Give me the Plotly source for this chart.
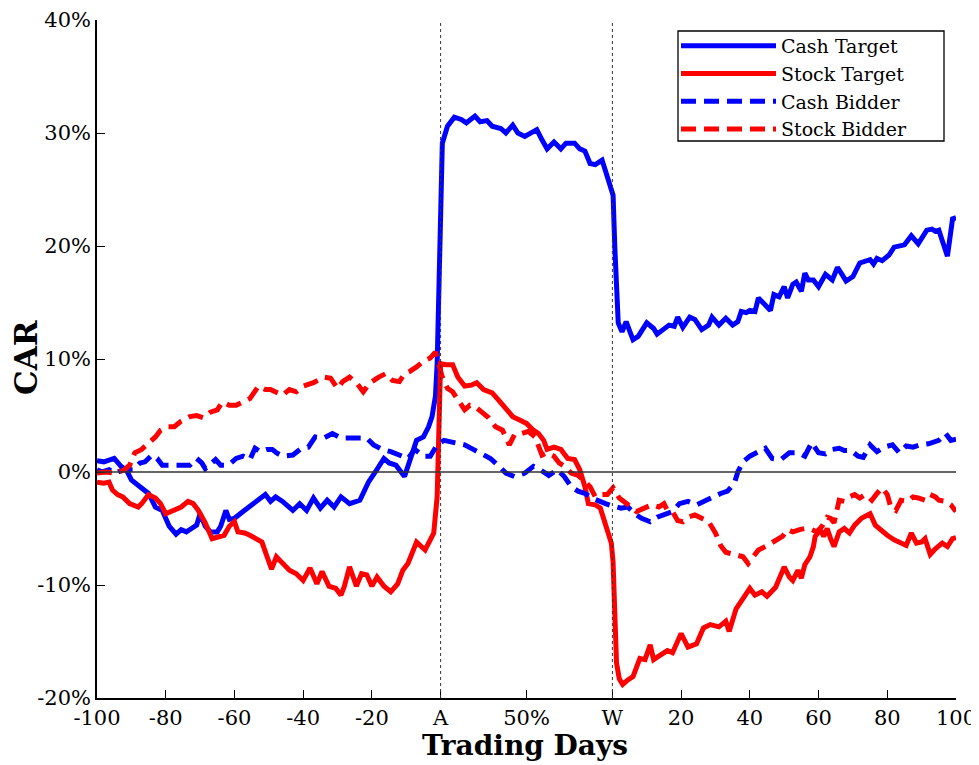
import plotly.graph_objects as go

# x positions: -100..0 = days before announcement (A), 0..50 = announcement-to-withdrawal
# window in % (A=0, 50%=25, W=50), 50..150 = days 0..100 after withdrawal (W)
tick_vals = [-100, -80, -60, -40, -20, 0, 25, 50, 70, 90, 110, 130, 150]
tick_text = ["-100", "-80", "-60", "-40", "-20", "A", "50%", "W", "20", "40", "60", "80", "100"]
y_tick_vals = [-20, -10, 0, 10, 20, 30, 40]
y_tick_text = ["-20%", "-10%", "0%", "10%", "20%", "30%", "40%"]

cash_target_x = [-100, -98, -95, -93, -91.5, -90, -87.5, -85, -83, -81, -79, -77, -75.5, -74, -72.5, -71, -70, -68.5,
                 -67, -65, -64, -62.5, -61.5, -60, -57.5, -55, -52.5, -51, -49.5, -48, -46, -43, -41, -39, -37, -35,
                 -33, -31, -29, -26.5, -23.5, -21, -19, -16.5, -15, -13, -10.5, -8.5, -7, -5, -3.5, -2.5, -1.5, -1,
                 -0.5, 0, 0.5, 2, 4, 6, 7.5, 10, 11.5, 13.5, 15, 17.5, 19, 21, 22.5, 24.5, 26.5, 28, 29.5, 31, 33, 35,
                 36.5, 39, 40.5, 42, 43.5, 45, 47, 48.5, 49.7, 50.2, 50.7, 51.7, 52.8, 54, 56, 57.5, 60, 62, 63, 65,
                 66.5, 68, 69, 70.5, 72.5, 74, 76, 78, 79, 81, 83, 85, 86.5, 87.5, 89, 90, 91.5, 92.5, 94.5, 96, 97,
                 98.5, 100, 101, 102.5, 103.5, 105, 106, 107, 108.5, 110, 112, 114, 115.5, 117, 118, 120, 122, 125,
                 126, 127, 128.5, 130.5, 132, 135, 137, 139, 141.5, 143, 144, 145, 146, 147.5, 149, 150]
cash_target_y = [1.0, 0.9, 1.2, 0.5, 0.2, -0.7, -1.3, -1.9, -3.1, -3.4, -4.8, -5.5, -5.1, -5.3, -5.0, -4.7, -3.7, -4.8,
                 -5.3, -5.3, -4.8, -3.4, -4.2, -4.1, -3.5, -2.9, -2.3, -2.0, -2.6, -2.2, -2.6, -3.4, -2.8, -3.4, -2.3,
                 -3.2, -2.5, -3.1, -2.2, -2.8, -2.5, -0.9, 0.0, 1.2, 0.8, 0.6, -0.4, 1.4, 2.8, 3.1, 4.0, 4.9, 6.7, 9.6,
                 16.0, 23.2, 29.1, 30.6, 31.4, 31.2, 30.9, 31.5, 31.0, 31.1, 30.6, 30.4, 30.0, 30.7, 30.0, 29.7, 30.1,
                 30.3, 29.4, 28.6, 29.2, 28.6, 29.1, 29.1, 28.6, 28.4, 27.3, 27.2, 27.6, 26.3, 25.0, 24.5, 19.9, 13.2,
                 12.4, 13.3, 11.7, 12.0, 13.2, 12.7, 12.2, 12.6, 13.0, 12.9, 13.7, 12.8, 13.7, 13.5, 12.6, 13.0, 13.7,
                 13.0, 13.6, 13.0, 13.3, 14.2, 14.1, 14.3, 14.2, 15.4, 14.8, 14.3, 15.7, 15.5, 16.4, 15.4, 16.6, 16.8,
                 16.0, 17.6, 17.0, 17.0, 16.4, 17.5, 17.0, 18.1, 17.4, 16.9, 17.3, 18.5, 18.8, 18.4, 18.9, 18.7, 19.2,
                 19.9, 20.1, 20.9, 20.2, 21.4, 21.5, 21.3, 21.4, 20.4, 19.1, 22.4, 22.5]

stock_target_x = [-100, -98, -96.5, -95.5, -94, -92.5, -90.5, -88, -87, -85, -83, -81.5, -80, -78.5, -77, -75.5, -73.5,
                  -72, -70.5, -68.5, -66.5, -64.5, -63, -61.5, -60, -59, -57, -55.5, -53.5, -52, -50.5, -49.2, -47.8,
                  -45.8, -44, -42, -40, -38, -36, -34.5, -32.5, -30.5, -29, -28, -26.5, -24.5, -23, -21.5, -20, -18.5,
                  -16.5, -14.5, -12.5, -11, -9.5, -7, -4.5, -2, -1, -0.5, 0, 1.5, 3.5, 5, 7, 9, 10.5, 12.5, 15, 16.5,
                  18.5, 21, 23, 25, 27, 28.5, 30, 31, 33, 35, 37, 39, 40.5, 42, 43, 45, 46.5, 47.7, 48.7, 49.7, 50.2,
                  50.7, 51.2, 52, 53, 54.5, 56, 58, 59.5, 61, 62, 63.5, 66, 67.5, 70, 72, 74.5, 76.5, 78.5, 81, 83, 84,
                  86, 88, 90, 91.5, 93.5, 95, 97.5, 100, 101.5, 102.5, 104, 105, 106, 107.5, 108.5, 109, 110.5, 111.5,
                  112.5, 113.5, 114.5, 116, 117.5, 119, 120.5, 122.5, 124, 125, 126.5, 128, 130, 132, 134, 135.5, 137,
                  138.5, 140, 141, 142.5, 144, 146, 147.5, 149, 150]
stock_target_y = [-0.9, -1.0, -0.9, -1.6, -2.0, -2.2, -2.8, -3.1, -2.8, -2.0, -2.3, -2.8, -3.7, -3.5, -3.4, -3.1, -2.6,
                  -2.8, -3.4, -4.5, -5.9, -5.7, -5.6, -4.8, -4.4, -5.3, -5.4, -5.6, -5.9, -6.2, -7.5, -8.6, -7.5, -8.1,
                  -8.7, -9.0, -9.6, -8.5, -9.9, -8.8, -10.1, -10.3, -10.9, -10.1, -8.4, -10.1, -9.0, -9.1, -10.1, -9.3,
                  -10.1, -10.6, -9.9, -8.7, -8.1, -6.2, -6.9, -5.4, -2.2, 3.7, 9.6, 9.5, 9.5, 8.4, 7.6, 7.7, 7.9, 7.3,
                  7.0, 6.5, 5.8, 4.9, 4.6, 4.3, 3.7, 3.4, 2.8, 2.0, 2.2, 2.0, 1.2, 1.1, 0.2, -1.3, -2.8, -2.9, -3.2,
                  -4.5, -5.5, -6.3, -8.0, -13.0, -16.9, -18.3, -18.8, -18.4, -18.1, -16.5, -16.6, -15.3, -16.6, -16.3,
                  -15.8, -16.0, -14.3, -15.5, -15.2, -13.8, -13.5, -13.7, -13.2, -14.1, -12.1, -11.2, -10.3, -10.9,
                  -10.6, -11.0, -10.2, -8.4, -9.3, -9.6, -8.7, -9.4, -8.2, -7.5, -6.6, -5.7, -5.1, -5.7, -5.0, -5.9,
                  -6.6, -5.3, -5.0, -5.4, -4.7, -4.1, -3.8, -3.7, -4.7, -5.1, -5.6, -6.0, -6.3, -6.5, -5.4, -6.3, -6.2,
                  -5.9, -7.3, -6.8, -6.3, -6.6, -5.9, -5.8]

cash_bidder_x = [-100, -98.5, -96.5, -94.5, -92.5, -89.5, -87.5, -86, -84, -82.5, -81, -79, -77, -75, -73, -71, -69.5,
                 -68.5, -67.5, -65.5, -64, -62.5, -61, -59.5, -57.5, -55.5, -54, -52.5, -50.5, -49, -47.8, -46, -43,
                 -40.5, -38.5, -36.5, -34, -31.5, -29, -26, -24, -21.5, -19.5, -17, -14.5, -12, -9.5, -7.5, -5, -3, -1,
                 1, 3, 5, 7, 9.5, 11.5, 14.5, 17, 19, 21.5, 24.5, 27, 29, 31.5, 34, 36, 38, 40, 42, 44, 46, 48, 50,
                 52.5, 54.5, 56.5, 58.5, 61, 63, 65, 67.5, 69.5, 72, 74.5, 77, 79.5, 81.5, 83.5, 85.5, 86.5, 88, 90,
                 92, 94.5, 96.5, 99, 101.5, 104, 106, 108, 110, 112, 114, 116, 117.5, 119.5, 121.5, 123, 125, 127, 129,
                 131.5, 133.5, 135.5, 137.5, 139.5, 142, 143.5, 145, 147, 148.5, 150]
cash_bidder_y = [0.2, 0.0, 0.2, -0.1, 0.2, 0.2, 0.8, 0.9, 1.5, 1.2, 0.6, 0.6, 0.6, 0.5, 0.6, 1.2, 0.8, 0.3, 0.6, 1.1,
                 0.6, 0.6, 0.8, 1.2, 1.4, 1.1, 2.1, 1.8, 2.0, 2.0, 1.7, 1.4, 1.5, 2.1, 2.2, 3.1, 3.0, 3.4, 3.0, 3.0,
                 3.1, 3.0, 2.4, 2.0, 1.8, 1.5, 1.2, 2.0, 1.4, 1.4, 2.4, 2.8, 2.7, 2.5, 2.4, 2.0, 1.7, 1.2, 0.5, -0.1,
                 -0.4, -0.1, 0.5, 0.2, -0.3, 0.2, -0.4, -1.3, -1.7, -1.9, -2.3, -2.6, -2.8, -3.0, -3.2, -3.1, -3.7,
                 -4.1, -4.4, -4.0, -3.8, -3.5, -2.8, -2.6, -2.9, -2.5, -2.2, -1.9, -1.7, -1.0, 0.0, 0.9, 1.4, 1.7, 2.1,
                 1.2, 1.1, 1.7, 1.7, 1.4, 2.6, 1.7, 1.6, 2.0, 2.1, 1.9, 1.9, 1.4, 1.3, 2.4, 1.8, 2.2, 2.4, 1.7, 2.3,
                 2.2, 2.4, 2.5, 2.7, 2.8, 3.4, 2.8, 2.9]

stock_bidder_x = [-100, -97.5, -94.5, -92, -90.5, -89, -87, -85, -83, -81.5, -79.5, -77.5, -75.5, -73, -71, -69, -67,
                  -65, -63.5, -61.5, -59.5, -57.5, -55.5, -53, -51, -49.5, -47.5, -46, -44, -42, -40, -37, -34, -32,
                  -30, -28.5, -26.5, -24.5, -22.5, -20.5, -18, -16, -14, -12, -10.5, -9, -7, -5, -3, -1.5, 0.5, 2, 3.5,
                  5.5, 7, 8.5, 10, 12, 14, 16, 18, 20, 21.5, 23.5, 25.5, 27.5, 29.5, 31, 33, 34.5, 36, 38, 40, 41.5,
                  43.5, 45, 47, 48.5, 50.2, 52, 53.5, 55.5, 57, 59, 61.5, 63.5, 65, 66, 67.5, 69, 70.5, 72, 74, 76, 78,
                  80, 81.5, 83, 84.5, 86.5, 88, 89.5, 91, 92.5, 94.5, 96, 97.5, 99.5, 101, 102.5, 104.5, 106, 108,
                  109.5, 111, 112.5, 113.5, 114.5, 116, 117.5, 119, 120.5, 122, 123.5, 124.5, 125.5, 127, 128.5, 130,
                  131, 132.5, 134, 136, 137.5, 139, 141, 142.5, 144, 145, 147, 148.5, 150]
stock_bidder_y = [-0.1, 0.0, -0.1, 0.2, 0.6, 1.7, 2.0, 2.5, 3.1, 3.7, 4.0, 4.0, 4.5, 4.9, 5.0, 4.8, 5.3, 5.5, 6.2, 5.9,
                  5.9, 6.2, 6.5, 7.6, 7.3, 7.3, 7.0, 6.8, 7.3, 7.1, 7.6, 7.9, 8.4, 8.3, 7.4, 8.0, 8.4, 7.9, 7.1, 7.9,
                  8.4, 8.7, 8.1, 8.0, 8.7, 8.9, 9.3, 9.8, 10.1, 10.6, 8.4, 7.4, 7.1, 6.1, 5.5, 5.9, 5.8, 5.3, 4.8, 4.0,
                  3.7, 2.4, 3.3, 3.4, 3.6, 3.1, 1.5, 1.7, 1.4, 0.8, 0.5, -0.1, -0.3, -0.7, -1.3, -2.2, -2.0, -2.0, -1.4,
                  -2.3, -2.6, -3.1, -3.5, -3.2, -2.9, -3.1, -2.8, -3.4, -3.5, -4.3, -4.4, -4.0, -3.8, -4.1, -4.4, -5.4,
                  -6.5, -7.1, -7.2, -7.4, -7.5, -8.1, -7.5, -6.9, -6.6, -6.3, -6.0, -5.7, -5.1, -5.3, -5.1, -5.0, -5.1,
                  -5.3, -4.8, -4.0, -4.1, -4.5, -2.5, -2.6, -2.2, -2.0, -2.3, -2.0, -2.2, -2.5, -1.9, -1.4, -2.0, -3.1,
                  -3.4, -2.5, -2.6, -2.2, -2.3, -2.5, -2.0, -2.2, -2.5, -2.6, -2.9, -3.5]

FONT = "DejaVu Serif"
BLUE = "#0000ff"
RED = "#ff0000"
DASH = "15px,8px"

# page has an 8px body margin; figure is sized to fit the 979x765 window
OFF = 8
W, H = 979 - OFF, 765 - OFF
ML, MT = 97 - OFF, 20 - OFF
MR, MB = W - (956 - OFF), H - (698 - OFF)
pw = W - ML - MR
ph = H - MT - MB


def px_x(p):  # page pixel x -> paper fraction
    return (p - OFF - ML) / pw


def px_y(p):  # page pixel y -> paper fraction
    return 1 - (p - OFF - MT) / ph


fig = go.Figure()
fig.add_trace(go.Scatter(x=cash_target_x, y=cash_target_y, mode="lines", name="Cash Target",
                         line=dict(color=BLUE, width=5)))
fig.add_trace(go.Scatter(x=stock_target_x, y=stock_target_y, mode="lines", name="Stock Target",
                         line=dict(color=RED, width=5)))
fig.add_trace(go.Scatter(x=cash_bidder_x, y=cash_bidder_y, mode="lines", name="Cash Bidder",
                         line=dict(color=BLUE, width=5, dash=DASH)))
fig.add_trace(go.Scatter(x=stock_bidder_x, y=stock_bidder_y, mode="lines", name="Stock Bidder",
                         line=dict(color=RED, width=5, dash=DASH)))

shapes = [
    dict(type="line", xref="paper", yref="y", x0=0, x1=1, y0=0, y1=0,
         line=dict(color="#333333", width=1.5), layer="above"),
]
for xv in (0, 50):
    shapes.append(dict(type="line", xref="x", yref="paper", x0=xv, x1=xv, y0=0, y1=1,
                       line=dict(color="#333333", width=1, dash="dot"), layer="above"))
# legend frame
shapes.append(dict(type="rect", xref="paper", yref="paper", x0=px_x(678), x1=px_x(944), y0=px_y(141), y1=px_y(31),
                   line=dict(color="black", width=1.3), fillcolor="white", layer="above"))

annotations = [
    dict(text="<b>Trading Days</b>", xref="paper", yref="paper",
         x=px_x(525), y=px_y(745), xanchor="center", yanchor="middle",
         showarrow=False, font=dict(family=FONT, size=28, color="black")),
    dict(text="<b>CAR</b>", xref="paper", yref="paper",
         x=px_x(26), y=px_y(358), xanchor="center", yanchor="middle",
         textangle=-90, showarrow=False, font=dict(family=FONT, size=31, color="black")),
]

fig.update_layout(
    width=W, height=H,
    margin=dict(l=ML, r=MR, t=MT, b=MB),
    paper_bgcolor="white", plot_bgcolor="white",
    font=dict(family=FONT, size=21, color="black"),
    showlegend=True,
    legend=dict(x=px_x(676), y=px_y(27), xanchor="left", yanchor="top",
                bgcolor="rgba(0,0,0,0)", borderwidth=0,
                font=dict(family=FONT, size=19, color="black"),
                itemwidth=95, tracegroupgap=0),
    shapes=shapes,
    annotations=annotations,
    xaxis=dict(range=[-100, 150], tickmode="array", tickvals=tick_vals, ticktext=tick_text,
               showgrid=False, zeroline=False, showline=True, linecolor="black", linewidth=1.5,
               ticks="inside", ticklen=8, tickcolor="black", mirror=False, automargin=False,
               tickfont=dict(family=FONT, size=21)),
    yaxis=dict(range=[-20, 40], tickmode="array", tickvals=y_tick_vals, ticktext=y_tick_text,
               showgrid=False, zeroline=False, showline=True, linecolor="black", linewidth=1.5,
               ticks="inside", ticklen=8, tickcolor="black", mirror=False, automargin=False,
               tickfont=dict(family=FONT, size=21)),
)

fig.write_html("out.html")
